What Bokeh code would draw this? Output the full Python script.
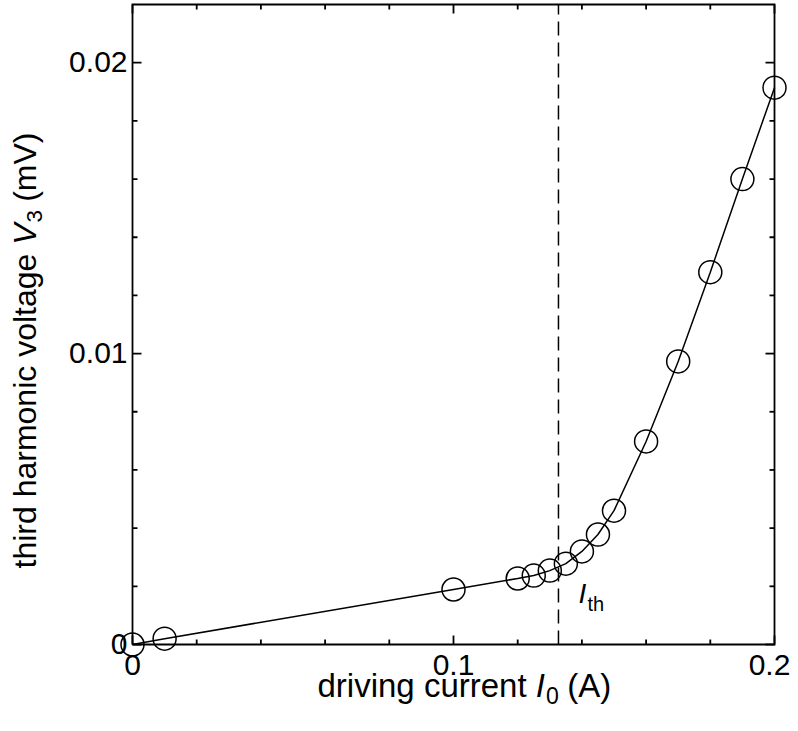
from bokeh.plotting import figure
from bokeh.models import Range1d, Label
from bokeh.embed import file_html
from bokeh.resources import INLINE
import numpy as np

# ---------------- data ----------------
current = [0.0, 0.01, 0.10, 0.12, 0.125, 0.13, 0.135, 0.14, 0.145, 0.15,
           0.16, 0.17, 0.18, 0.19, 0.20]
v3 = [0.0, 0.0002, 0.00189, 0.00227, 0.00237, 0.00254, 0.00278, 0.0032,
      0.00378, 0.0046, 0.00698, 0.00973, 0.0128, 0.0160, 0.01914]
i_th = 0.1327
x_ticks = [0.0, 0.1, 0.2]
x_tick_labels = ["0", "0.1", "0.2"]
y_ticks = [0.0, 0.01, 0.02]
y_tick_labels = ["0", "0.01", "0.02"]
x_minor = [0.02, 0.04, 0.06, 0.08, 0.12, 0.14, 0.16, 0.18]
y_minor = [0.002, 0.004, 0.006, 0.008, 0.012, 0.014, 0.016, 0.018]

# ---------------- layout (page pixels) ----------------
W, H = 790, 723
PL, PR, PT, PB = 132.0, 774.0, 4.0, 644.0   # axes box in page pixels
X0, X1 = 0.0, 0.2
Y0, Y1 = 0.0, 0.022
SX = (X1 - X0) / (PR - PL)   # data per px
SY = (Y1 - Y0) / (PB - PT)
FONT = "Liberation Sans"
FS = 30
XTFS = 33
YTFS = 32
BSH = 0.4   # empirical baseline correction (fraction of font size)


def dx(px):
    return X0 + (px - PL) * SX


def dy(py):
    return Y0 + (PB - py) * SY


p = figure(width=W, height=H,
           x_range=Range1d(dx(0), dx(W)), y_range=Range1d(dy(H), dy(0)),
           output_backend="svg", toolbar_location=None,
           min_border=0, x_axis_location=None, y_axis_location=None)
p.xgrid.visible = False
p.ygrid.visible = False
p.outline_line_color = None
p.background_fill_color = "white"
p.border_fill_color = "white"

LW = 1.8
# axes box
p.line([X0, X1, X1, X0, X0], [Y0, Y0, Y1, Y1, Y0], line_color="black",
       line_width=LW, line_join="miter")

# ticks (pointing inward) on all four sides
MAJ, MIN = 9, 5
xt = np.array(x_ticks)
xm = np.array(x_minor)
yt = np.array(y_ticks)
ym = np.array(y_minor)
for xs, ln in ((xt, MAJ), (xm, MIN)):
    p.segment(xs, Y0, xs, Y0 + ln * SY, line_color="black", line_width=LW)
    p.segment(xs, Y1, xs, Y1 - ln * SY, line_color="black", line_width=LW)
for ys, ln in ((yt, MAJ), (ym, MIN)):
    p.segment(X0, ys, X0 + ln * SX, ys, line_color="black", line_width=LW)
    p.segment(X1, ys, X1 - ln * SX, ys, line_color="black", line_width=LW)

# threshold line
p.segment([i_th], [Y0], [i_th], [Y1], line_color="black", line_width=1.5,
          line_dash="14 7")

# data
p.line(current, v3, line_color="black", line_width=1.5)
p.scatter(current, v3, marker="circle", size=23, fill_color=None,
          line_color="black", line_width=1.5)

# ---------------- text ----------------
AW = {"d": 556, "r": 333, "i": 222, "v": 500, "n": 556, "g": 556, " ": 278,
      "c": 500, "u": 556, "e": 556, "t": 278, "h": 556, "a": 556, "m": 833,
      "o": 556, "l": 222, "(": 333, ")": 333, "A": 667, "V": 667, "I": 278,
      "0": 556, "3": 556}


def tw(s, size):
    return sum(AW[c] for c in s) * size / 1000.0


def lab(text, x, y, size, italic=False, rotated=False, align="left", xo=0, yo=0):
    if rotated:
        xo = xo - BSH * size
    else:
        yo = yo + BSH * size
    p.add_layout(Label(x=x, y=y, text=text, text_font=FONT,
                       text_font_size=f"{size}px", text_color="black",
                       text_font_style="italic" if italic else "normal",
                       text_align=align, text_baseline="alphabetic",
                       angle=np.pi / 2 if rotated else 0.0,
                       x_offset=xo, y_offset=yo))


# tick labels
x_lab_shift = [0, 0, -5]
for v, t, s in zip(x_ticks, x_tick_labels, x_lab_shift):
    lab(t, v, Y0, FS, align="center", xo=s, yo=-(676 - PB))
for v, t in zip(y_ticks, y_tick_labels):
    lab(t, X0, v, FS, align="right", xo=-5, yo=-11)

# x axis title: driving current I0 (A)
SUB = 0.7
x_start, x_base = 317.0, 698.0
cx = x_start
lab("driving current", dx(cx), dy(x_base), XTFS)
cx += tw("driving current ", XTFS)
lab("I", dx(cx), dy(x_base), XTFS, italic=True)
cx += tw("I", XTFS) + 1
lab("0", dx(cx), dy(x_base + 0.2 * XTFS), XTFS * SUB)
cx += tw("0 ", XTFS * SUB) + 2
lab("(A)", dx(cx), dy(x_base), XTFS)

# y axis title: third harmonic voltage V3 (mV), rotated
y_start, y_base = 568.0, 37.0
cy = y_start
lab("third harmonic voltage", dx(y_base), dy(cy), YTFS, rotated=True)
cy -= tw("third harmonic voltage ", YTFS)
lab("V", dx(y_base), dy(cy), YTFS, italic=True, rotated=True)
cy -= tw("V", YTFS) + 1
lab("3", dx(y_base + 0.2 * YTFS), dy(cy), YTFS * SUB, rotated=True)
cy -= tw("3 ", YTFS * SUB) + 2
lab("(mV)", dx(y_base), dy(cy), YTFS, rotated=True)

# threshold label I_th
lab("I", dx(578), dy(604), 28, italic=True)
lab("th", dx(587), dy(611), 20)

open("out.html", "w").write(file_html(p, INLINE))
